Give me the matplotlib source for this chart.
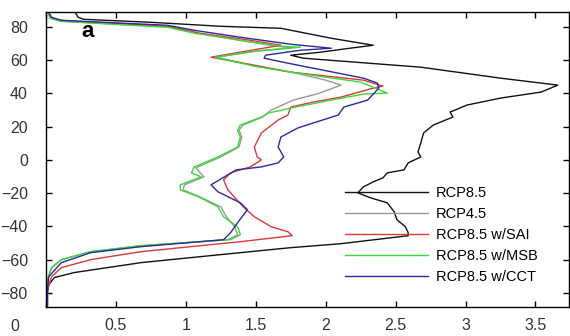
import numpy as np
import matplotlib
matplotlib.use("Agg")
import matplotlib.pyplot as plt

plt.rcParams['font.family'] = ['Liberation Sans', 'DejaVu Sans']

# latitude / value pairs
lat_rcp85 = [90, 85.8, 84.6, 82.8, 80.4, 79.2, 73.2, 69, 67.5, 64.8, 63, 61.2, 55.8, 49.2, 45, 40.8, 37.2, 33,
             28.8, 25.8, 21, 16.2, 10.2, 4.8, 1.8, -1.8, -6, -7.8, -10.8, -13.2, -16.2, -19.8, -22.8, -25.8,
             -31.2, -36, -40.2, -43.8, -45.6, -50.4, -52.8, -55.8, -61.8, -67.8, -70.8, -75, -80, -88]
val_rcp85 = [0.2, 0.23, 0.27, 0.75, 1.25, 1.68, 2.04, 2.34, 2.2, 1.96, 1.75, 1.84, 2.68, 3.25, 3.66, 3.54, 3.25,
             3.01, 2.89, 2.91, 2.77, 2.7, 2.68, 2.66, 2.68, 2.59, 2.56, 2.44, 2.41, 2.34, 2.27, 2.23, 2.32,
             2.44, 2.49, 2.51, 2.57, 2.59, 2.59, 2.11, 1.75, 1.39, 0.68, 0.2, 0.06, 0.02, 0.01, 0.01]

lat_rcp45 = [90, 85.2, 83.4, 79.8, 76.2, 72, 68.4, 67.5, 65.4, 61.8, 56.4, 52.8, 48, 45, 40, 36, 30, 25.8,
             21, 18, 13.8, 7.8, 1.8, -4.8, -10.2, -15, -18, -22.2, -28.2, -34.2, -40.2, -45, -48, -51.6,
             -55.2, -60, -64.8, -72, -80, -88]
val_rcp45 = [0.01, 0.03, 0.11, 0.9, 1.1, 1.38, 1.65, 1.75, 1.5, 1.22, 1.5, 1.76, 2.0, 2.11, 1.95, 1.77, 1.61,
             1.55, 1.41, 1.38, 1.4, 1.38, 1.25, 1.07, 1.13, 0.99, 0.98, 1.1, 1.25, 1.29, 1.35, 1.37, 1.3,
             0.68, 0.32, 0.11, 0.04, 0.01, 0.01, 0.01]

lat_sai = [90, 85.5, 84, 80.4, 76.2, 72, 69, 65, 61.8, 57, 52.8, 48, 44.4, 43.2, 37.8, 34.8, 31.8, 27, 24,
           16.2, 7.8, 1.8, 0, -4.2, -7.8, -12, -18, -28.2, -34.2, -40.2, -43.2, -45.6, -49.2, -55.2, -60,
           -64.8, -70.2, -78, -88]
val_sai = [0.01, 0.04, 0.1, 0.87, 1.1, 1.46, 1.68, 1.4, 1.18, 1.49, 1.75, 2.27, 2.41, 2.34, 2.11, 1.91, 1.75,
           1.73, 1.66, 1.54, 1.49, 1.51, 1.54, 1.46, 1.32, 1.27, 1.3, 1.41, 1.49, 1.61, 1.73, 1.76, 1.39,
           0.68, 0.32, 0.11, 0.04, 0.01, 0.01]

lat_msb = [90, 85.2, 83.4, 79.8, 76.2, 72, 68.4, 67.8, 65.4, 61.8, 56.4, 52.8, 46.8, 40.2, 39.6, 36, 31.2,
           28.2, 25.8, 21, 18, 13.8, 7.8, 1.8, -4.2, -7.8, -10.2, -15, -18, -22.2, -28.2, -34.2, -40.2, -45,
           -48, -51.6, -55.2, -60, -64.8, -72, -80, -88]
val_msb = [0.01, 0.03, 0.11, 0.87, 1.06, 1.39, 1.68, 1.82, 1.49, 1.21, 1.49, 1.75, 2.25, 2.44, 2.27, 2.04,
           1.75, 1.59, 1.54, 1.39, 1.37, 1.39, 1.37, 1.23, 1.06, 1.04, 1.11, 0.96, 0.96, 1.09, 1.23, 1.27,
           1.37, 1.39, 1.32, 0.68, 0.32, 0.11, 0.04, 0.01, 0.01, 0.01]

lat_cct = [90, 85.8, 84, 81, 78, 73.8, 69.6, 67.2, 66, 63, 61.2, 58.2, 49.2, 46.2, 43.2, 36, 31.8, 27, 22.2,
           19.2, 13.8, 7.8, 1.8, -1.8, -4.2, -6, -15, -19.2, -25.8, -30, -37.8, -43.8, -48, -52.2, -55.8,
           -61.8, -70.2, -78, -88]
val_cct = [0.01, 0.04, 0.11, 0.87, 1.06, 1.39, 1.75, 2.04, 1.82, 1.57, 1.56, 1.73, 2.27, 2.37, 2.38, 2.3,
           2.13, 2.09, 1.91, 1.8, 1.68, 1.66, 1.7, 1.66, 1.54, 1.36, 1.18, 1.23, 1.39, 1.44, 1.37, 1.32,
           1.27, 0.68, 0.32, 0.11, 0.02, 0.01, 0.01]

labels = ["RCP8.5", "RCP4.5", "RCP8.5 w/SAI", "RCP8.5 w/MSB", "RCP8.5 w/CCT"]
colors = ["#111111", "#999999", "#d83a3a", "#3cd83c", "#2a2a9a"]
xticks = [0, 0.5, 1, 1.5, 2, 2.5, 3, 3.5]
yticks = [-80, -60, -40, -20, 0, 20, 40, 60, 80]

fig = plt.figure(figsize=(5.7, 3.36), dpi=100)
ax = fig.add_axes([46/570, 29/336, 523/570, 295/336])

series = [(val_rcp85, lat_rcp85), (val_rcp45, lat_rcp45), (val_sai, lat_sai),
          (val_msb, lat_msb), (val_cct, lat_cct)]
order = [1, 0, 2, 3, 4]
handles = [None]*5
for i in order:
    v, la = series[i]
    h, = ax.plot(v, la, color=colors[i], lw=1.0, label=labels[i])
    handles[i] = h

ax.set_xlim(0, 3.74)
ax.set_ylim(-88.5, 89)
ax.set_xticks(xticks)
ax.set_xticklabels([""] + [f"{t:g}" for t in xticks[1:]])
ax.set_yticks(yticks)
ax.tick_params(direction="in", top=True, right=True, length=4, width=1,
               labelsize=11.5, labelcolor="#333333")
ax.tick_params(axis="y", pad=13)
ax.tick_params(axis="x", pad=8)
# the "0" label sits left of the axis in the original
ax.text(-0.22, -96, "0", ha="center", va="top", fontsize=11.5, color="#333333")
for s in ax.spines.values():
    s.set_linewidth(1.0)

ax.text(0.25, 77, "a", fontsize=16, fontweight="bold", ha="left", va="center")

ax.legend(handles=handles, loc="upper left", bbox_to_anchor=(0.547, 0.455), frameon=False,
          fontsize=10.5, handlelength=5.7, handletextpad=0.5, labelspacing=0.48)

fig.savefig("out.png", dpi=100)
